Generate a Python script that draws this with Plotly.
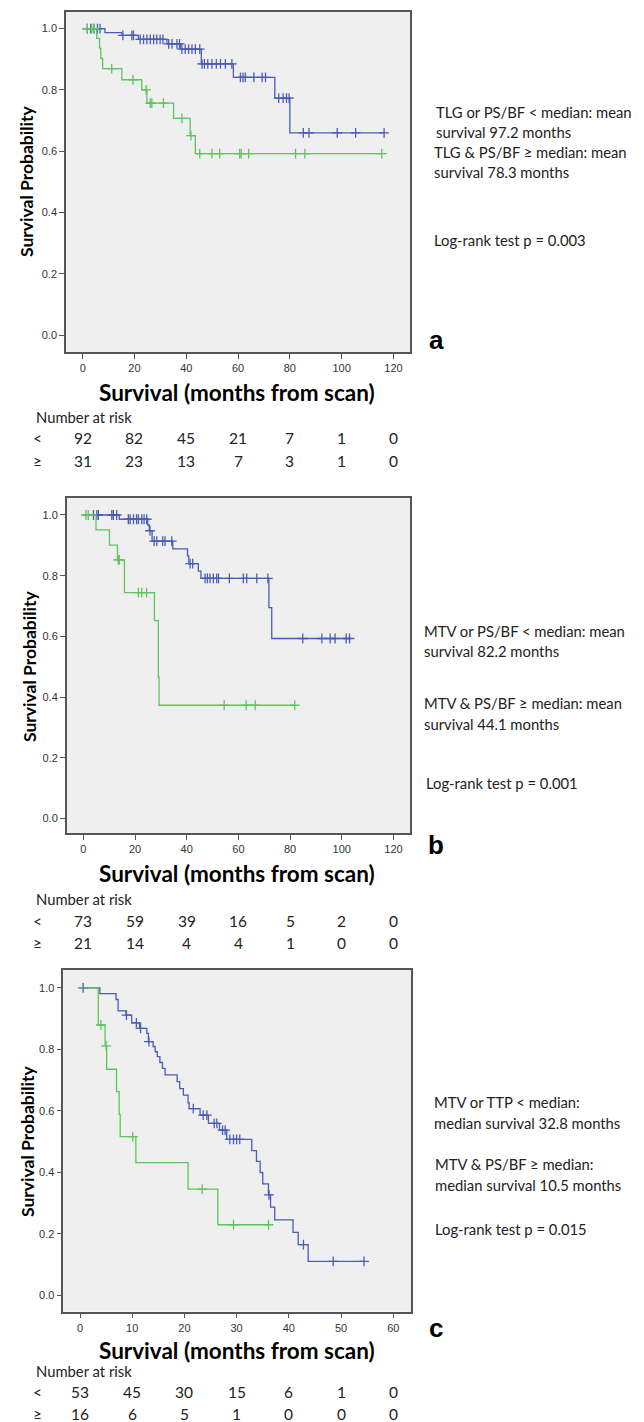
import numpy as np
import plotly.graph_objects as go

# Page body has an 8px margin; lay out in reference pixels and shift by it.
REF_W, REF_H = 644, 1422
OFF = 8
W, H = REF_W - OFF, REF_H - OFF

# ---------------- data ----------------
# Panel a
a_blue_t = [0, 8.6, 15.1, 21.5, 32.5, 37.7, 45.8, 58.2, 74.2, 80.0]
a_blue_s = [1.0, 0.987, 0.978, 0.965, 0.950, 0.933, 0.885, 0.841, 0.773, 0.660]
a_blue_end = 116.4
a_blue_cens = [1.8, 3.1, 4.4, 5.7, 6.7, 15.5, 19.0, 19.6, 22.2, 23.5, 24.8, 26.1, 27.4, 28.6,
               29.9, 31.0, 33.2, 34.5, 36.4, 37.4, 38.3, 39.6, 40.9, 42.2, 43.5, 45.2, 46.1,
               47.0, 48.3, 49.9, 51.6, 53.2, 55.1, 57.6, 60.9, 61.9, 62.8, 66.1, 69.3, 70.6,
               75.7, 77.4, 78.7, 79.7, 85.2, 87.4, 98.3, 105.4, 116.4]
a_green_t = [0, 5.4, 6.5, 7.0, 7.7, 15.1, 22.8, 24.8, 35.1, 41.5, 43.5]
a_green_s = [1.0, 0.968, 0.936, 0.903, 0.869, 0.833, 0.800, 0.757, 0.707, 0.651, 0.592]
a_green_end = 115.5
a_green_cens = [1.8, 3.5, 4.5, 11.2, 19.4, 24.5, 26.1, 26.7, 31.2, 38.3, 41.8, 45.2, 49.9,
                52.9, 60.6, 61.2, 64.1, 82.2, 85.8, 115.5]

# Panel b
b_blue_t = [0, 13.9, 24.9, 25.5, 26.6, 34.6, 40.3, 40.8, 44.5, 45.5, 71.8, 72.9]
b_blue_s = [1.0, 0.986, 0.967, 0.948, 0.914, 0.888, 0.865, 0.840, 0.815, 0.791, 0.695, 0.593]
b_blue_end = 103.5
b_blue_cens = [3.9, 5.2, 5.8, 11.0, 11.6, 12.9, 17.4, 18.1, 19.4, 20.6, 21.3, 22.6, 23.5, 24.5,
               25.8, 27.4, 28.4, 30.7, 31.6, 34.2, 41.3, 42.3, 47.1, 48.0, 49.0, 50.3, 51.6,
               52.3, 56.5, 61.9, 63.2, 67.1, 71.4, 84.9, 92.3, 95.5, 97.4, 101.7, 103.0]
b_green_t = [0, 4.9, 10.1, 13.2, 15.9, 27.5, 29.0, 29.3]
b_green_s = [1.0, 0.951, 0.901, 0.852, 0.744, 0.652, 0.466, 0.373]
b_green_end = 81.8
b_green_cens = [1.0, 1.9, 13.5, 13.9, 21.3, 22.6, 24.5, 54.5, 63.0, 66.5, 81.8]

# Panel c
c_blue_t = [0, 3.8, 6.9, 7.3, 8.8, 9.9, 11.4, 12.8, 13.1, 14.0, 14.4, 14.8, 15.3, 15.8, 16.3,
            18.6, 19.1, 19.8, 20.7, 20.9, 23.0, 24.6, 26.7, 28.1, 32.9, 33.8, 34.5, 35.0,
            36.1, 36.5, 37.3, 40.8, 41.8, 43.7]
c_blue_s = [1.0, 0.981, 0.962, 0.925, 0.911, 0.886, 0.868, 0.852, 0.825, 0.809, 0.792, 0.776,
            0.757, 0.738, 0.717, 0.695, 0.672, 0.651, 0.626, 0.607, 0.586, 0.559, 0.537,
            0.507, 0.470, 0.435, 0.399, 0.362, 0.326, 0.286, 0.245, 0.204, 0.164, 0.110]
c_blue_end = 54.4
c_blue_cens = [0.6, 8.9, 10.8, 11.6, 13.2, 21.7, 23.6, 24.3, 25.7, 26.2, 27.3, 27.8, 28.7,
               29.4, 30.0, 30.6, 36.2, 42.8, 48.5, 54.4]
c_green_t = [0, 3.5, 4.8, 5.1, 7.0, 7.5, 7.7, 10.7, 20.7, 26.4]
c_green_s = [1.0, 0.879, 0.811, 0.735, 0.662, 0.588, 0.516, 0.431, 0.345, 0.229]
c_green_end = 36.1
c_green_cens = [4.0, 5.0, 10.1, 23.4, 29.4, 36.1]

# Number at risk
ab_ticks = [0, 20, 40, 60, 80, 100, 120]
c_ticks = [0, 10, 20, 30, 40, 50, 60]
a_risk_lt = [92, 82, 45, 21, 7, 1, 0]
a_risk_ge = [31, 23, 13, 7, 3, 1, 0]
b_risk_lt = [73, 59, 39, 16, 5, 2, 0]
b_risk_ge = [21, 14, 4, 4, 1, 0, 0]
c_risk_lt = [53, 45, 30, 15, 6, 1, 0]
c_risk_ge = [16, 6, 5, 1, 0, 0, 0]

a_text = ["TLG or PS/BF < median: mean", "survival 97.2 months",
          "TLG & PS/BF ≥ median: mean", "survival 78.3 months", "Log-rank test p = 0.003"]
b_text = ["MTV or PS/BF < median: mean", "survival 82.2 months",
          "MTV & PS/BF ≥ median: mean", "survival 44.1 months", "Log-rank test p = 0.001"]
c_text = ["MTV or TTP < median:", "median survival 32.8 months",
          "MTV & PS/BF ≥ median:", "median survival 10.5 months", "Log-rank test p = 0.015"]

BLUE = "#4A5CB6"
GREEN = "#5EC45E"
TXT = "Lato, 'Open Sans', sans-serif"


def px(x):
    return (x - OFF) / W


def py(y):
    return 1 - (y - OFF) / H


def surv_at(ts, ss, t):
    i = np.searchsorted(np.array(ts), t, side="right") - 1
    return ss[max(i, 0)]


fig = go.Figure()


def add_curve(ts, ss, end, cens, color, xa, ya):
    xs = list(ts) + [end]
    ys = list(ss) + [ss[-1]]
    fig.add_trace(go.Scatter(x=xs, y=ys, mode="lines", line=dict(color=color, width=1.3, shape="hv"),
                             xaxis=xa, yaxis=ya, showlegend=False, hoverinfo="skip"))
    cy = [surv_at(ts, ss, t) for t in cens]
    fig.add_trace(go.Scatter(x=cens, y=cy, mode="markers",
                             marker=dict(symbol="cross-thin", size=7, line=dict(color=color, width=1.3)),
                             xaxis=xa, yaxis=ya, showlegend=False, hoverinfo="skip"))


add_curve(a_blue_t, a_blue_s, a_blue_end, a_blue_cens, BLUE, "x", "y")
add_curve(a_green_t, a_green_s, a_green_end, a_green_cens, GREEN, "x", "y")
add_curve(b_blue_t, b_blue_s, b_blue_end, b_blue_cens, BLUE, "x2", "y2")
add_curve(b_green_t, b_green_s, b_green_end, b_green_cens, GREEN, "x2", "y2")
add_curve(c_blue_t, c_blue_s, c_blue_end, c_blue_cens, BLUE, "x3", "y3")
add_curve(c_green_t, c_green_s, c_green_end, c_green_cens, GREEN, "x3", "y3")

axis_common = dict(showline=True, mirror=True, linecolor="#555555", linewidth=1.5,
                   showgrid=False, zeroline=False, ticks="outside", ticklen=5,
                   tickcolor="#555555", tickwidth=1,
                   tickfont=dict(family="Arial, 'Liberation Sans', sans-serif", size=11, color="#333333"))

panels = [
    dict(x0=66, x1=410, top=12, bot=352.3, xr=[-6.45, 126.4], yr=[-0.056, 1.054], ticks=ab_ticks),
    dict(x0=66.7, x1=410, top=498.3, bot=833.3, xr=[-6.45, 126.4], yr=[-0.049, 1.055], ticks=ab_ticks),
    dict(x0=63.3, x1=411, top=970, bot=1311.7, xr=[-3.2, 63.4], yr=[-0.054, 1.058], ticks=c_ticks),
]

layout = dict(width=W, height=H, margin=dict(l=0, r=0, t=0, b=0),
              paper_bgcolor="white", plot_bgcolor="#EFEFEF", showlegend=False)
for i, p in enumerate(panels):
    sfx = "" if i == 0 else str(i + 1)
    layout["xaxis" + sfx] = dict(axis_common, domain=[px(p["x0"]), px(p["x1"])], range=p["xr"],
                                 tickvals=p["ticks"], anchor="y" + sfx)
    layout["yaxis" + sfx] = dict(axis_common, domain=[py(p["bot"]), py(p["top"])], range=p["yr"],
                                 tickvals=[0, 0.2, 0.4, 0.6, 0.8, 1.0], tickformat=".1f",
                                 anchor="x" + sfx)
fig.update_layout(**layout)

ann = []

xtitle_font = dict(family=TXT, size=22.5, color="black", weight="bold")
ytitle_font = dict(family=TXT, size=17.5, color="black", weight="bold")
txt_font = dict(family=TXT, size=14.8, color="#222222")
risk_font = dict(family=TXT, size=15.5, color="#222222")

xtitle_y = [392, 873, 1350.7]
ytitle_y = [181, 666, 1141]
ytitle_x = [27, 29, 27]
nar_y = [416.7, 899, 1371]
lt_y = [437.7, 920.7, 1391.7]
ge_y = [461, 943.3, 1414.3]
label_y = [340, 845, 1328]
risk_lt = [a_risk_lt, b_risk_lt, c_risk_lt]
risk_ge = [a_risk_ge, b_risk_ge, c_risk_ge]
texts = [a_text, b_text, c_text]
text_pos = [
    [(434, 111.7), (434, 131.7), (432, 151.7), (432, 172), (432, 240)],
    [(422, 630.7), (422, 651), (422, 703.3), (422, 724), (423.5, 783.3)],
    [(431.7, 1101.7), (431.7, 1123.3), (433, 1164), (433, 1185), (433, 1229)],
]
labels = ["a", "b", "c"]

for i, p in enumerate(panels):
    sfx = "" if i == 0 else str(i + 1)
    ann.append(dict(text="Survival (months from scan)", x=px(237), y=py(xtitle_y[i]), xref="paper",
                    yref="paper", showarrow=False, font=xtitle_font, xanchor="center", yanchor="middle"))
    ann.append(dict(text="Survival Probability", x=px(ytitle_x[i]), y=py(ytitle_y[i]), xref="paper",
                    yref="paper", showarrow=False, font=ytitle_font, textangle=-90,
                    xanchor="center", yanchor="middle"))
    ann.append(dict(text="Number at risk", x=px(34), y=py(nar_y[i]), xref="paper", yref="paper",
                    showarrow=False, font=txt_font, xanchor="left", yanchor="middle"))
    ann.append(dict(text="<", x=px(37.7), y=py(lt_y[i]), xref="paper", yref="paper",
                    showarrow=False, font=risk_font, xanchor="center", yanchor="middle"))
    ann.append(dict(text="≥", x=px(37.7), y=py(ge_y[i]), xref="paper", yref="paper",
                    showarrow=False, font=risk_font, xanchor="center", yanchor="middle"))
    for t, v1, v2 in zip(p["ticks"], risk_lt[i], risk_ge[i]):
        ann.append(dict(text=str(v1), x=t, y=py(lt_y[i]), xref="x" + sfx, yref="paper",
                        showarrow=False, font=risk_font, xanchor="center", yanchor="middle"))
        ann.append(dict(text=str(v2), x=t, y=py(ge_y[i]), xref="x" + sfx, yref="paper",
                        showarrow=False, font=risk_font, xanchor="center", yanchor="middle"))
    for s, (tx, ty) in zip(texts[i], text_pos[i]):
        ann.append(dict(text=s, x=px(tx), y=py(ty), xref="paper", yref="paper", showarrow=False,
                        font=txt_font, xanchor="left", yanchor="middle"))
    ann.append(dict(text=labels[i], x=px(436), y=py(label_y[i]), xref="paper", yref="paper",
                    showarrow=False, font=dict(family="Arial, sans-serif", size=26, color="black",
                                               weight="bold"),
                    xanchor="center", yanchor="middle"))

fig.update_layout(annotations=ann)
fig.write_html("out.html")
